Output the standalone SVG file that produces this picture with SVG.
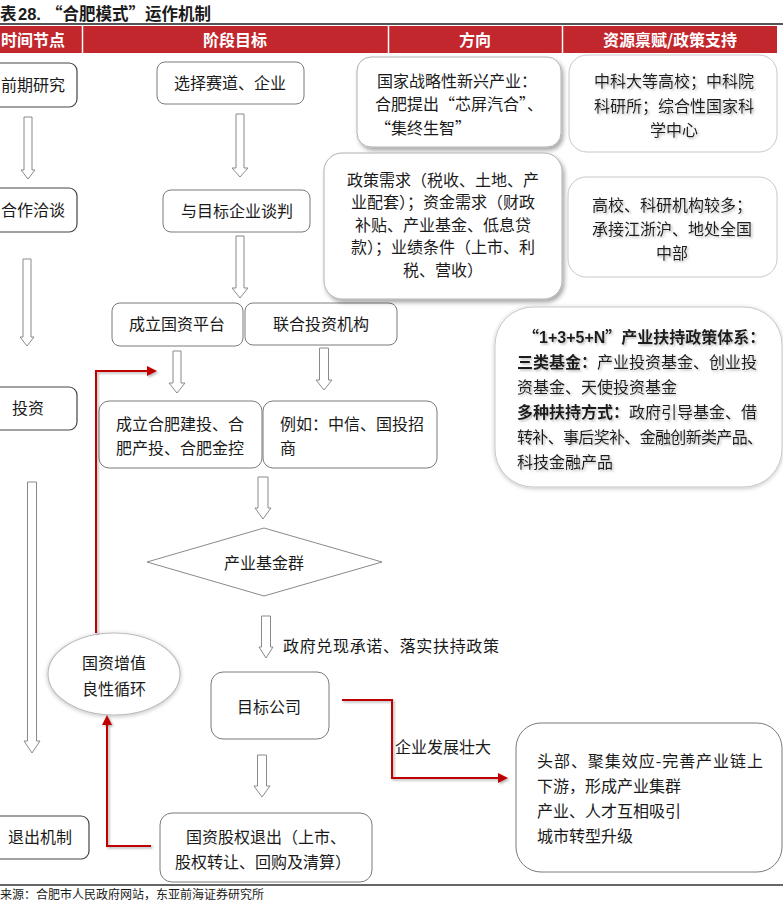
<svg xmlns="http://www.w3.org/2000/svg" width="783" height="923" viewBox="0 0 783 923">
<defs>
<style>
text{font-family:"Noto Sans CJK SC","Noto Sans",sans-serif;font-size:16px;fill:#1a1a1a}
.hd{fill:#fff;font-weight:700;font-size:16px}
.c{text-anchor:middle}
.b{font-weight:700}
.tt{font-size:16.5px;font-weight:700}
.ft{font-size:12px}
.lat{font-family:"Liberation Sans",sans-serif}
.lbox{fill:#fff;stroke:#444;stroke-width:1.2}
.mbox{fill:#fff;stroke:#7a7a7a;stroke-width:1}
.rbox{fill:#fff;stroke:#c8c8c8;stroke-width:1}
.sbox{fill:#fff;stroke:#b0b0b0;stroke-width:1}
.ha{fill:#fff;stroke:#8a8a8a;stroke-width:1}
.red{fill:none;stroke:#C00000;stroke-width:2}
</style>
<filter id="sh" x="-10%" y="-10%" width="125%" height="130%">
<feDropShadow dx="2" dy="3" stdDeviation="2" flood-color="#000" flood-opacity="0.35"/>
</filter>
<filter id="glow" x="-15%" y="-15%" width="130%" height="135%">
<feDropShadow dx="0" dy="1" stdDeviation="2" flood-color="#000" flood-opacity="0.25"/>
</filter>
<filter id="ts" x="-5%" y="-20%" width="115%" height="160%">
<feDropShadow dx="1.5" dy="1.5" stdDeviation="1" flood-color="#888" flood-opacity="0.6"/>
</filter>
<filter id="rs" x="-30%" y="-30%" width="160%" height="160%">
<feDropShadow dx="1.5" dy="1.5" stdDeviation="1" flood-color="#000" flood-opacity="0.3"/>
</filter>
<marker id="ar" viewBox="0 0 10 10" refX="2" refY="5" markerWidth="11" markerHeight="10" markerUnits="userSpaceOnUse" orient="auto">
<path d="M0,0 L10,5 L0,10 Z" fill="#C00000"/>
</marker>
</defs>
<rect x="0" y="0" width="783" height="923" fill="#fff"/>

<g id="title">
<text y="20" class="tt"><tspan x="0">表</tspan><tspan x="18" class="lat">28.</tspan><tspan x="46">“合肥模式”运作机制</tspan></text>
<line x1="0" y1="24" x2="783" y2="24" stroke="#555" stroke-width="2"/>
</g>

<g id="header">
<rect x="0" y="26" width="777" height="27" fill="#C1272D"/>
<line x1="82.5" y1="26" x2="82.5" y2="53" stroke="#fff" stroke-width="1.5"/>
<line x1="388.5" y1="26" x2="388.5" y2="53" stroke="#fff" stroke-width="1.5"/>
<line x1="562.5" y1="26" x2="562.5" y2="53" stroke="#fff" stroke-width="1.5"/>
<text x="33" y="46" class="hd c">时间节点</text>
<text x="235" y="46" class="hd c">阶段目标</text>
<text x="475" y="46" class="hd c">方向</text>
<text x="670" y="46" class="hd c">资源禀赋/政策支持</text>
</g>

<g id="n-qianqi">
<rect x="-10" y="63" width="87" height="44" rx="8" class="lbox"/>
<text x="33" y="91" class="c">前期研究</text>
</g>
<g id="n-hezuo">
<rect x="-10" y="188" width="87" height="44" rx="8" class="lbox"/>
<text x="33" y="216" class="c">合作洽谈</text>
</g>
<g id="n-touzi">
<rect x="-10" y="387" width="87" height="43" rx="8" class="lbox"/>
<text x="28" y="414" class="c">投资</text>
</g>
<g id="n-tuichu">
<rect x="-10" y="816" width="99" height="43" rx="8" class="lbox"/>
<text x="40" y="843" class="c">退出机制</text>
</g>

<g id="n-xuanze">
<rect x="157" y="62" width="147" height="42" rx="8" class="mbox"/>
<text x="230" y="89" class="c">选择赛道、企业</text>
</g>
<g id="n-tanpan">
<rect x="163" y="190" width="147" height="42" rx="8" class="mbox"/>
<text x="237" y="217" class="c">与目标企业谈判</text>
</g>
<g id="n-pingtai">
<rect x="112" y="303" width="131" height="43" rx="8" class="mbox"/>
<text x="177" y="330" class="c">成立国资平台</text>
</g>
<g id="n-lianhe">
<rect x="245" y="303" width="152" height="42" rx="8" class="mbox"/>
<text x="321" y="330" class="c">联合投资机构</text>
</g>
<g id="n-jiantou">
<rect x="99" y="401" width="163" height="67" rx="10" class="mbox"/>
<text x="116" y="430">成立合肥建投、合</text>
<text x="116" y="454">肥产投、合肥金控</text>
</g>
<g id="n-liru">
<rect x="263" y="401" width="174" height="67" rx="10" class="mbox"/>
<text x="280" y="430">例如：中信、国投招</text>
<text x="280" y="454">商</text>
</g>
<g id="n-jijinqun">
<polygon points="147,562 264,528 382,562 264,596" fill="#fff" stroke="#8a8a8a" stroke-width="1"/>
<text x="264" y="569" class="c">产业基金群</text>
</g>
<g id="n-mubiao">
<rect x="211" y="672" width="118" height="67" rx="12" class="mbox"/>
<text x="269" y="713" class="c">目标公司</text>
</g>
<g id="n-guozi-tuichu">
<rect x="160" y="813" width="212" height="69" rx="12" class="mbox"/>
<text x="186" y="843">国资股权退出（上市、</text>
<text x="175" y="868">股权转让、回购及清算）</text>
</g>
<g id="n-xunhuan">
<ellipse cx="114" cy="674" rx="66" ry="41" fill="#fff" stroke="#bdbdbd" stroke-width="1.2" filter="url(#glow)"/>
<text x="114" y="669" class="c">国资增值</text>
<text x="114" y="695" class="c">良性循环</text>
</g>

<g id="n-fangxiang1">
<rect x="357" y="57" width="204" height="90" rx="14" class="sbox" filter="url(#sh)"/>
<text x="377" y="87">国家战略性新兴产业：</text>
<text x="375" y="110">合肥提出“芯屏汽合”、</text>
<text x="375" y="134">“集终生智”</text>
</g>
<g id="n-fangxiang2">
<rect x="324" y="153" width="238" height="146" rx="18" class="sbox" filter="url(#sh)"/>
<text x="443" y="186" class="c">政策需求（税收、土地、产</text>
<text x="443" y="208" class="c">业配套）；资金需求（财政</text>
<text x="443" y="231" class="c">补贴、产业基金、低息贷</text>
<text x="443" y="253" class="c">款）；业绩条件（上市、利</text>
<text x="443" y="276" class="c">税、营收）</text>
</g>

<g id="n-ziyuan1">
<rect x="569" y="55" width="208" height="97" rx="18" class="rbox"/>
<g filter="url(#ts)">
<text x="674" y="87" class="c">中科大等高校；中科院</text>
<text x="674" y="112" class="c">科研所；综合性国家科</text>
<text x="674" y="136" class="c">学中心</text>
</g>
</g>
<g id="n-ziyuan2">
<rect x="568" y="177" width="209" height="100" rx="18" class="rbox"/>
<g filter="url(#ts)">
<text x="672" y="211" class="c">高校、科研机构较多；</text>
<text x="672" y="235" class="c">承接江浙沪、地处全国</text>
<text x="672" y="259" class="c">中部</text>
</g>
</g>
<g id="n-zhengce">
<rect x="495" y="307" width="287" height="180" rx="38" class="rbox" filter="url(#glow)"/>
<g filter="url(#ts)">
<text x="523" y="343" class="b">“<tspan class="lat">1+3+5+N</tspan>”产业扶持政策体系：</text>
<text x="517" y="368"><tspan class="b">三类基金：</tspan>产业投资基金、创业投</text>
<text x="517" y="393">资基金、天使投资基金</text>
<text x="517" y="418"><tspan class="b">多种扶持方式：</tspan>政府引导基金、借</text>
<text x="517" y="443" textLength="246">转补、事后奖补、金融创新类产品、</text>
<text x="517" y="468">科技金融产品</text>
</g>
</g>
<g id="n-fazhan">
<rect x="516" y="723" width="266" height="149" rx="25" class="mbox"/>
<text x="537" y="767" textLength="226">头部、聚集效应-完善产业链上</text>
<text x="537" y="792">下游，形成产业集群</text>
<text x="537" y="817">产业、人才互相吸引</text>
<text x="537" y="842">城市转型升级</text>
</g>

<g id="connectors">
<polygon class="ha" points="24,117 32,117 32,170 35,170 28,179 21,170 24,170"/>
<polygon class="ha" points="23,259 31,259 31,337 34,337 27,346 20,337 23,337"/>
<polygon class="ha" points="27.5,482 36.5,482 36.5,741 40,741 32,753 24,741 27.5,741"/>
<polygon class="ha" points="236,114 244,114 244,168 248,168 240,177 232,168 236,168"/>
<polygon class="ha" points="236,236 244,236 244,288 248,288 240,298 232,288 236,288"/>
<polygon class="ha" points="173,351 181,351 181,383 185,383 177,393 169,383 173,383"/>
<polygon class="ha" points="319.5,348 328.5,348 328.5,380 332,380 324,390 316,380 319.5,380"/>
<polygon class="ha" points="258,477 268,477 268,508 271,508 263,519 255,508 258,508"/>
<polygon class="ha" points="261.5,616 270.5,616 270.5,647 273,647 266,658 259,647 261.5,647"/>
<polygon class="ha" points="257.5,755 266.5,755 266.5,786 270,786 262,797 254,786 257.5,786"/>
<text x="283" y="652" textLength="216">政府兑现承诺、落实扶持政策</text>
<g filter="url(#rs)">
<polyline class="red" points="96,633 96,371 149,371" marker-end="url(#ar)"/>
<polyline class="red" points="342,700 392,700 392,778 500,778" marker-end="url(#ar)"/>
<polyline class="red" points="151,846 107,846 107,723" marker-end="url(#ar)"/>
</g>
<text x="395" y="753">企业发展壮大</text>
</g>

<g id="footer">
<line x1="0" y1="885" x2="783" y2="885" stroke="#333" stroke-width="1.5"/>
<text x="0" y="899" class="ft">来源：合肥市人民政府网站，东亚前海证券研究所</text>
</g>
</svg>
